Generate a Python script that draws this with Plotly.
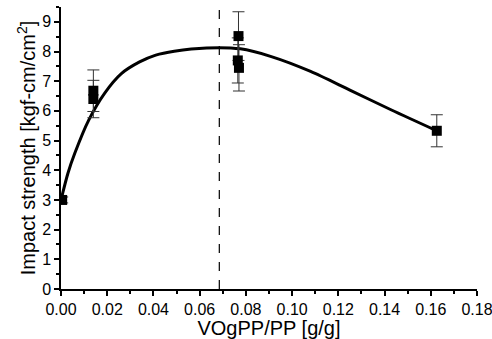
import plotly.graph_objects as go

# measured data
x_pts = [0.0005, 0.014, 0.014, 0.0768, 0.0765, 0.0770, 0.1626]
y_pts = [3.0, 6.68, 6.40, 8.52, 7.70, 7.45, 5.33]
y_err = [0.1, 0.70, 0.63, 0.82, 0.76, 0.78, 0.54]

# fitted curve
curve_x = [0.0, 0.003, 0.006, 0.012, 0.019, 0.026, 0.034, 0.041, 0.049, 0.063, 0.0776, 0.091, 0.108, 0.125, 0.143, 0.1626]
curve_y = [3.0, 3.9, 4.58, 5.69, 6.61, 7.25, 7.65, 7.88, 8.01, 8.12, 8.09, 7.83, 7.33, 6.70, 6.03, 5.33]

vline_x = 0.0685

fig = go.Figure()
fig.add_trace(go.Scatter(
    x=curve_x, y=curve_y, mode="lines",
    line=dict(color="black", width=3, shape="spline", smoothing=0.8),
    showlegend=False, hoverinfo="skip"))
fig.add_trace(go.Scatter(
    x=x_pts, y=y_pts, mode="markers",
    marker=dict(symbol="square", size=10, color="black"),
    error_y=dict(type="data", array=y_err, visible=True, color="#333", thickness=1, width=6),
    showlegend=False))
fig.add_trace(go.Scatter(
    x=[vline_x, vline_x], y=[0, 9.5], mode="lines",
    line=dict(color="black", width=1.2, dash="dash"),
    showlegend=False, hoverinfo="skip"))

font_family = "Liberation Sans, Arial, sans-serif"
fig.update_layout(
    width=492, height=339,
    margin=dict(l=61, r=15, t=7, b=50),
    paper_bgcolor="white", plot_bgcolor="white",
    font=dict(family=font_family, color="black", size=16),
    xaxis=dict(
        range=[0, 0.18], tickmode="array", automargin=False, ticklabeloverflow="allow",
        tickvals=[0, 0.02, 0.04, 0.06, 0.08, 0.10, 0.12, 0.14, 0.16, 0.18],
        ticktext=["0.00", "0.02", "0.04", "0.06", "0.08", "0.10", "0.12", "0.14", "0.16", "0.18"],
        ticks="outside", ticklen=5, tickwidth=1.5, tickcolor="black",
        minor=dict(dtick=0.01, ticks="outside", ticklen=3, tickcolor="black"),
        showline=True, linecolor="black", linewidth=1.5, showgrid=False, zeroline=False,
        title=dict(text="VOgPP/PP [g/g]", font=dict(size=20), standoff=0),
        tickfont=dict(size=16)),
    yaxis=dict(
        range=[0, 9.5], tickmode="array", tickvals=list(range(10)), automargin=False,
        ticklabeloverflow="allow",
        ticks="outside", ticklen=5, tickwidth=1.5, tickcolor="black",
        minor=dict(dtick=0.5, ticks="outside", ticklen=3, tickcolor="black"),
        showline=True, linecolor="black", linewidth=1.5, showgrid=False, zeroline=False,
        title=dict(text="Impact strength [kgf-cm/cm<sup>2</sup>]", font=dict(size=20), standoff=1),
        tickfont=dict(size=16)),
)

fig.write_html("out.html", config={"displayModeBar": False},
               post_script="document.body.style.margin='0';document.body.style.padding='0';")
